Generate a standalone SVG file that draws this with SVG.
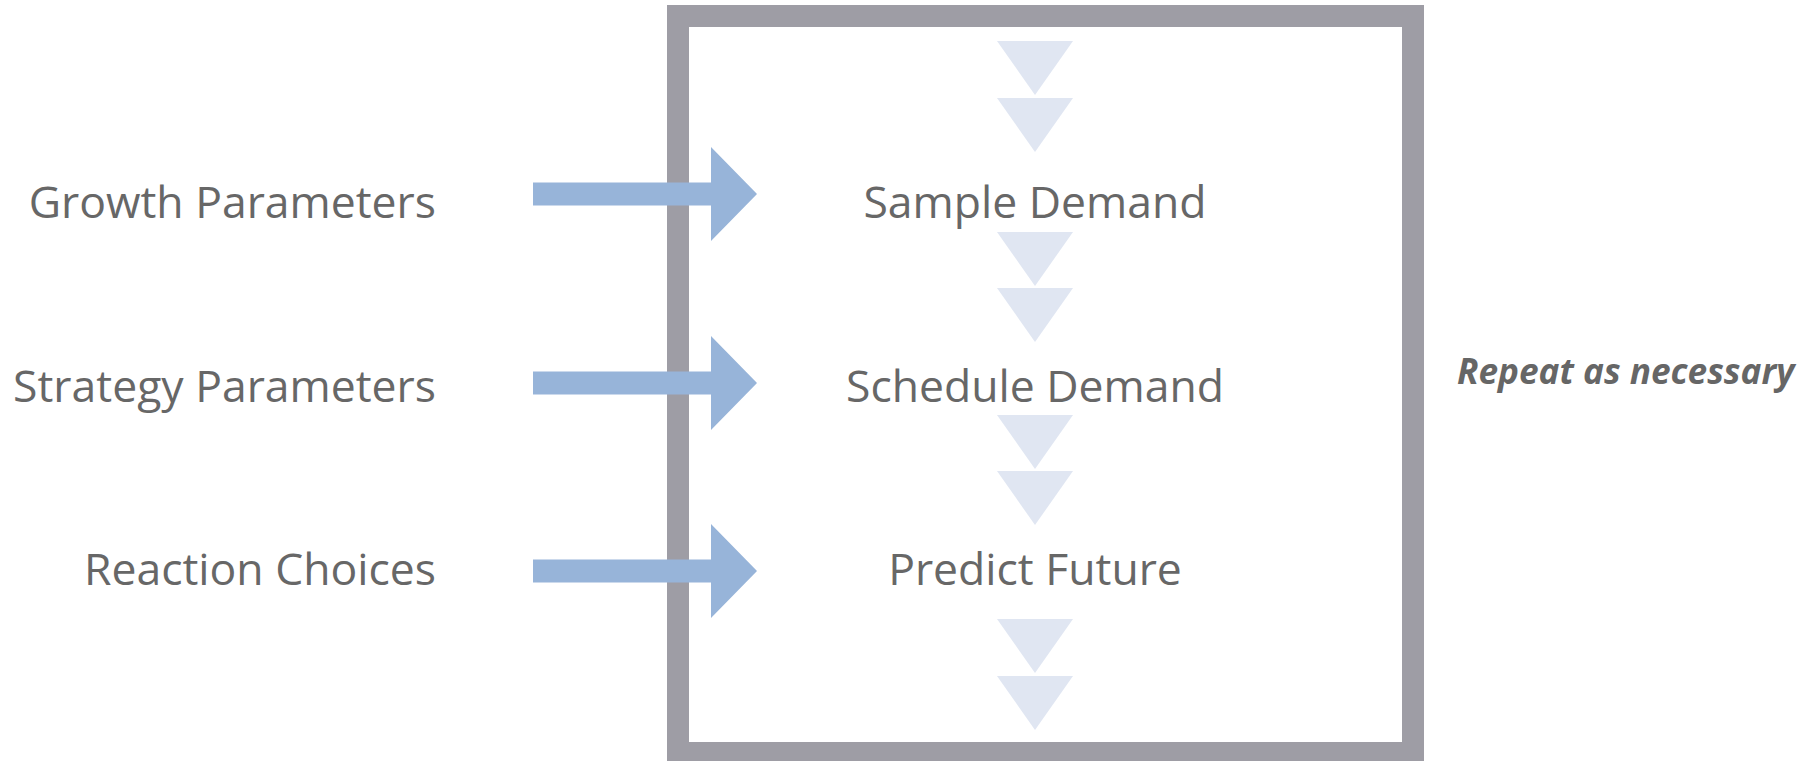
<svg xmlns="http://www.w3.org/2000/svg" width="1805" height="761" viewBox="0 0 1805 761">
  <defs>
    <style>
      .lbl { font-family: "Open Sans", "Noto Sans", sans-serif; font-size: 44.5px; fill: #676767; }
      .note { font-family: "Open Sans", "Noto Sans", sans-serif; font-size: 35.2px; font-weight: bold; font-style: italic; fill: #666666; }
      .tri { fill: #e0e6f2; }
      .arrow { fill: #97b4d9; }
      .frame { fill: none; stroke: #9e9da5; stroke-width: 22; }
    </style>
    <path id="tri" class="tri" d="M0,0 L76,0 L38,54 Z"/>
    <path id="arr" class="arrow" d="M0,-11.5 L178,-11.5 L178,-47 L224,0 L178,47 L178,11.5 L0,11.5 Z"/>
  </defs>
  <rect width="1805" height="761" fill="#ffffff"/>

  <g id="process-frame">
    <rect class="frame" x="678" y="16" width="735" height="737"/>
  </g>

  <g id="flow-triangles">
    <use href="#tri" x="997" y="41"/>
    <use href="#tri" x="997" y="98"/>
    <use href="#tri" x="997" y="232"/>
    <use href="#tri" x="997" y="288"/>
    <use href="#tri" x="997" y="415"/>
    <use href="#tri" x="997" y="471"/>
    <use href="#tri" x="997" y="619"/>
    <use href="#tri" x="997" y="676"/>
  </g>

  <g id="node-growth"><text class="lbl" x="436" y="218" text-anchor="end">Growth Parameters</text></g>
  <g id="node-strategy"><text class="lbl" x="436" y="402" text-anchor="end">Strategy Parameters</text></g>
  <g id="node-reaction"><text class="lbl" x="436" y="585" text-anchor="end">Reaction Choices</text></g>

  <g id="node-sample"><text class="lbl" x="1035" y="218" text-anchor="middle">Sample Demand</text></g>
  <g id="node-schedule"><text class="lbl" x="1035" y="402" text-anchor="middle">Schedule Demand</text></g>
  <g id="node-predict"><text class="lbl" x="1035" y="585" text-anchor="middle">Predict Future</text></g>

  <g id="node-repeat"><text class="note" x="1457" y="384">Repeat as necessary</text></g>

  <g id="connectors">
    <use href="#arr" x="533" y="194"/>
    <use href="#arr" x="533" y="383"/>
    <use href="#arr" x="533" y="571"/>
  </g>
</svg>
